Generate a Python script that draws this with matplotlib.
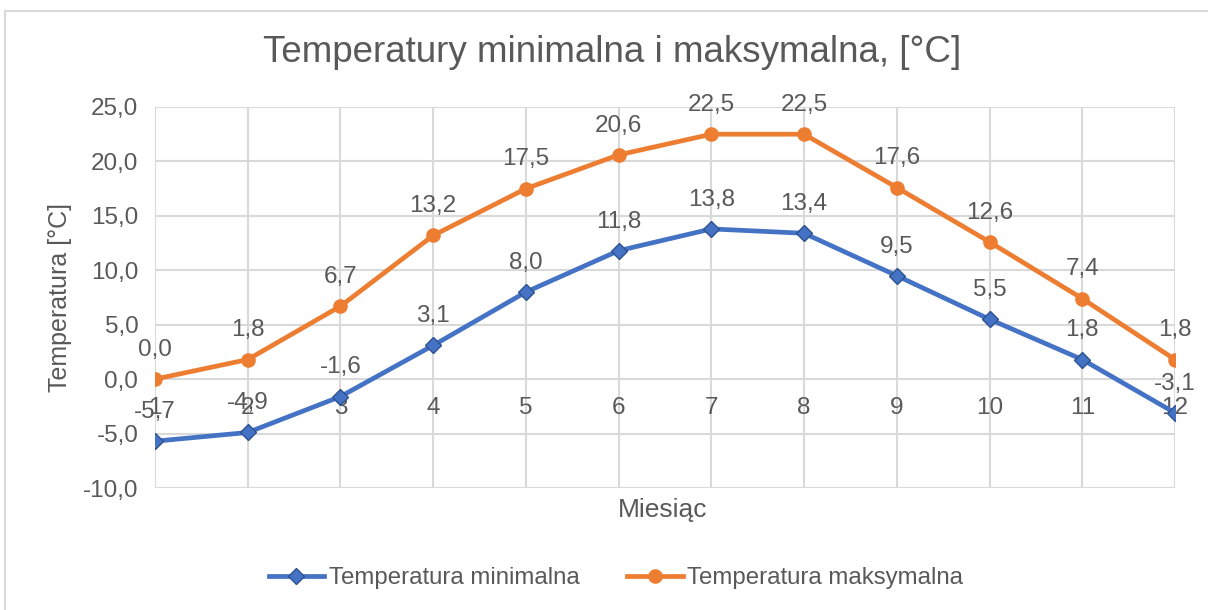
import matplotlib.pyplot as plt
from matplotlib.patches import Rectangle

plt.rcParams['font.family'] = ['Liberation Sans', 'DejaVu Sans']

months = [1, 2, 3, 4, 5, 6, 7, 8, 9, 10, 11, 12]
t_min = [-5.7, -4.9, -1.6, 3.1, 8.0, 11.8, 13.8, 13.4, 9.5, 5.5, 1.8, -3.1]
t_max = [0.0, 1.8, 6.7, 13.2, 17.5, 20.6, 22.5, 22.5, 17.6, 12.6, 7.4, 1.8]
y_ticks = [-10, -5, 0, 5, 10, 15, 20, 25]

txt = "#595959"
grid = "#d9d9d9"
fs = 17.5

fig = plt.figure(figsize=(12.08, 6.10), dpi=100)
ax = fig.add_axes([155 / 1208, 122 / 610, 1020 / 1208, 381 / 610])

# chart frame (cut at right and bottom like in the screenshot)
fig.patches.append(Rectangle((5 / 1208, -0.1), 1.2, 1.1 - 11 / 610, transform=fig.transFigure,
                             fill=False, edgecolor=grid, linewidth=1.5))

ax.plot(months, t_min, color="#4472C4", linewidth=3.4, marker="D", markersize=8.5,
        markerfacecolor="#4472C4", markeredgecolor="#2F528F", markeredgewidth=1,
        label="Temperatura minimalna", zorder=3)
ax.plot(months, t_max, color="#ED7D31", linewidth=3.4, marker="o", markersize=9.5,
        markerfacecolor="#ED7D31", markeredgecolor="#ED7D31",
        label="Temperatura maksymalna", zorder=3)

for series in (t_min, t_max):
    for x, v in zip(months, series):
        ax.annotate(f"{v:.1f}".replace(".", ","), (x, v), xytext=(0, 21), textcoords="offset points",
                    ha="center", va="center", fontsize=fs, color=txt)

ax.set_xlim(1, 12)
ax.set_ylim(-10, 25)
ax.set_yticks(y_ticks)
ax.set_yticklabels([f"{v:.1f}".replace(".", ",") for v in y_ticks])
ax.set_xticks(months)
ax.set_xticklabels([str(m) for m in months])
ax.tick_params(length=0, labelsize=fs, colors=txt)
ax.tick_params(axis="y", pad=12)
ax.tick_params(axis="x", pad=13)
ax.spines["bottom"].set_position(("data", 0))
for s in ax.spines.values():
    s.set_visible(False)
ax.grid(True, color=grid, linewidth=1.5)
ax.set_axisbelow(True)

fig.text(612 / 1208, 1 - 52 / 610, "Temperatury minimalna i maksymalna, [°C]", ha="center", va="center",
         fontsize=26.5, color=txt)
ax.set_ylabel("Temperatura [°C]", fontsize=18, color=txt, labelpad=8)
fig.text(663 / 1208, 1 - 510 / 610, "Miesiąc", ha="center", va="center", fontsize=19, color=txt)

fig.legend(loc="center", bbox_to_anchor=(616 / 1208, 1 - 578 / 610), ncol=2, frameon=False,
           fontsize=17.3, labelcolor=txt, handlelength=2.3, columnspacing=2.0, handletextpad=0.2)

plt.savefig("out.png", dpi=100)
plt.close()
